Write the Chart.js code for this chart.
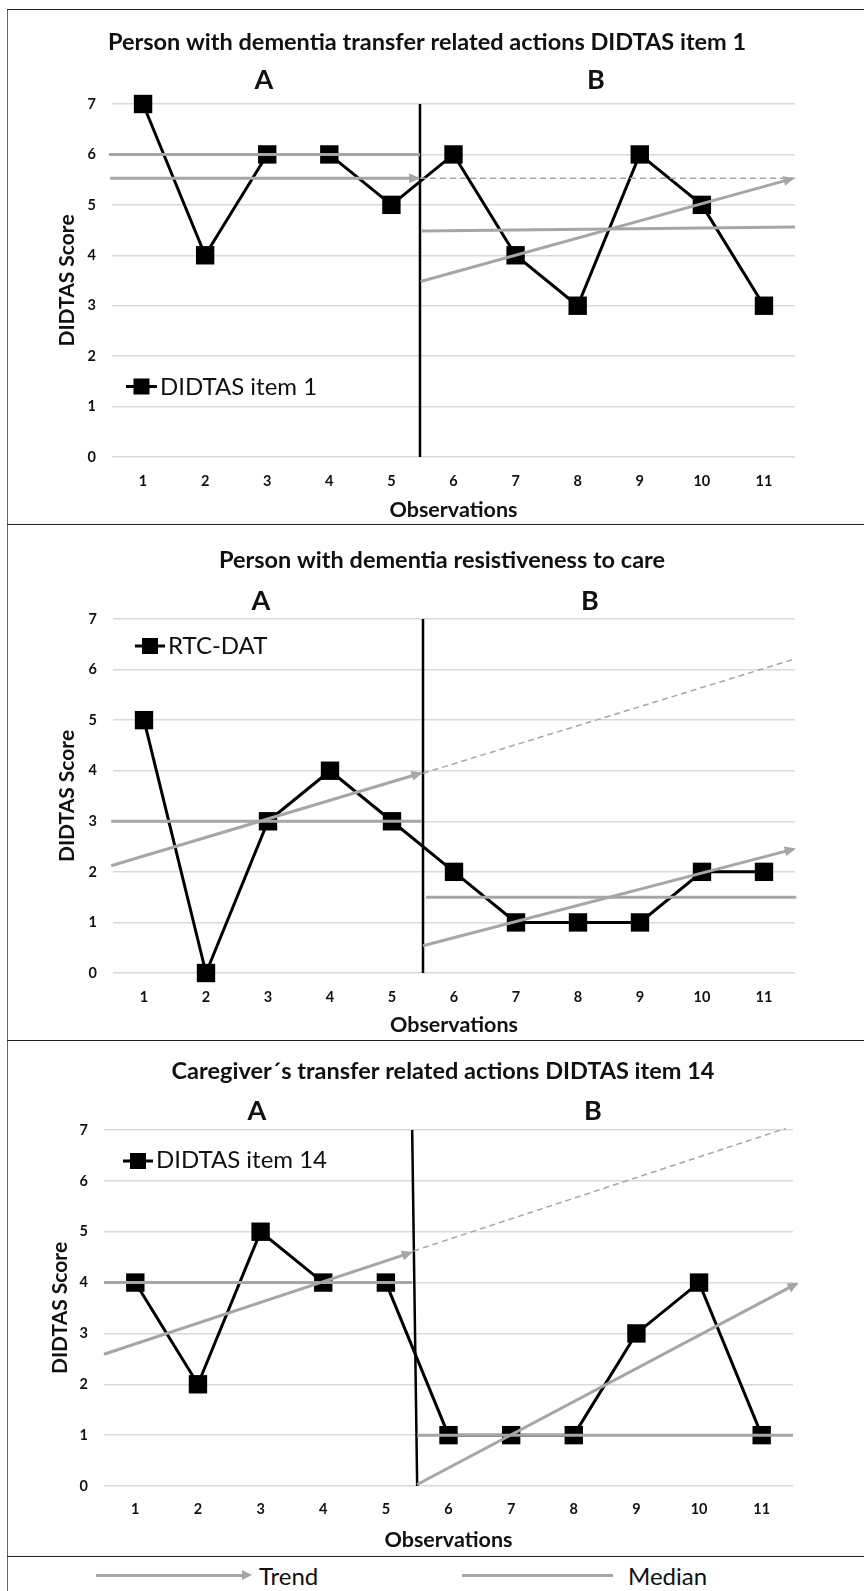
<!DOCTYPE html>
<html>
<head>
<meta charset="utf-8">
<script src="https://cdn.jsdelivr.net/npm/chart.js"></script>
<style>
html,body{margin:0;padding:0;background:#fff;width:864px;height:1591px;overflow:hidden;font-family:Lato,sans-serif;}
.wrap{position:absolute;left:0;width:864px;}
.vline{position:absolute;left:7px;top:9px;width:0;height:1582px;border-left:1px solid #666;}
.hline{position:absolute;left:7px;width:857px;height:0;border-top:1.5px solid #222;}
.abs{position:absolute;}
.legtxt{position:absolute;font-family:Lato,sans-serif;font-size:24px;line-height:1;color:#111;white-space:nowrap;}
</style>
</head>
<body>
<div class="vline"></div>
<div class="hline" style="top:9px"></div>
<div class="hline" style="top:524px"></div>
<div class="hline" style="top:1040px"></div>
<div class="hline" style="top:1556px"></div>

<div class="wrap" style="top:9px;height:515px"><canvas id="c1" width="864" height="515"></canvas></div>
<div class="wrap" style="top:524px;height:516px"><canvas id="c2" width="864" height="516"></canvas></div>
<div class="wrap" style="top:1040px;height:516px"><canvas id="c3" width="864" height="516"></canvas></div>

<!-- bottom legend -->
<div class="abs" style="left:96px;top:1573.5px;width:148px;height:3px;background:#a6a6a6"></div>
<div class="abs" style="left:242px;top:1570px;width:0;height:0;border-left:10px solid #a6a6a6;border-top:5px solid transparent;border-bottom:5px solid transparent"></div>
<div class="legtxt" style="left:259px;top:1564px">Trend</div>
<div class="abs" style="left:462px;top:1573.5px;width:151px;height:3px;background:#a6a6a6"></div>
<div class="legtxt" style="left:628px;top:1564px">Median</div>

<script>
// ---------------- DATA ----------------
const observations = [1, 2, 3, 4, 5, 6, 7, 8, 9, 10, 11];
const yTicks = [0, 1, 2, 3, 4, 5, 6, 7];

const item1Scores  = [7, 4, 6, 6, 5, 6, 4, 3, 6, 5, 3];
const rtcScores    = [5, 0, 3, 4, 3, 2, 1, 1, 1, 2, 2];
const item14Scores = [4, 2, 5, 4, 4, 1, 1, 1, 3, 4, 1];

// overlay line end points [observation, score]
const item1Phase   = [[5.46, 0], [5.46, 7]];
const item1MedianA = [[0.45, 6.0], [5.46, 6.0]];
const item1TrendA  = [[0.47, 5.53], [5.43, 5.53]];
const item1Extend  = [[5.46, 5.53], [11.5, 5.53]];
const item1MedianB = [[5.49, 4.48], [11.5, 4.56]];
const item1TrendB  = [[5.47, 3.48], [11.46, 5.52]];

const rtcPhase   = [[5.5, 0], [5.5, 7]];
const rtcMedianA = [[0.47, 3.0], [5.48, 3.0]];
const rtcTrendA  = [[0.47, 2.12], [5.46, 3.95]];
const rtcExtend  = [[5.5, 3.95], [11.5, 6.21]];
const rtcMedianB = [[5.55, 1.5], [11.52, 1.5]];
const rtcTrendB  = [[5.5, 0.54], [11.48, 2.45]];

const item14Phase   = [[5.5, 0], [5.42, 7]];
const item14MedianA = [[0.5, 4.0], [5.42, 4.0]];
const item14TrendA  = [[0.5, 2.59], [5.4, 4.59]];
const item14Extend  = [[5.44, 4.62], [11.38, 7.03]];
const item14MedianB = [[5.5, 1.0], [11.5, 1.0]];
const item14TrendB  = [[5.5, 0.03], [11.56, 3.98]];

const panelTitles = [
  'Person with dementia transfer related actions DIDTAS item 1',
  'Person with dementia resistiveness to care',
  'Caregiver\u00b4s transfer related actions DIDTAS item 14'
];
const seriesNames = ['DIDTAS item 1', 'RTC-DAT', 'DIDTAS item 14'];
const phaseLabels = ['A', 'B'];
const xAxisTitle = 'Observations';
const yAxisTitle = 'DIDTAS Score';

// ---------------- DRAWING ----------------
const GRAY = '#a6a6a6';
const FONT = 'Lato, "Open Sans", sans-serif';

function pts(arr) { return arr.map(p => ({ x: p[0], y: p[1] })); }

const decor = {
  id: 'decor',
  afterDatasetsDraw(chart) {
    const ctx = chart.ctx, xs = chart.scales.x, ys = chart.scales.y;
    chart.data.datasets.forEach(ds => {
      if (!ds.arrow) return;
      const d = ds.data, a = d[d.length - 2], b = d[d.length - 1];
      const x1 = xs.getPixelForValue(a.x), y1 = ys.getPixelForValue(a.y);
      let x2 = xs.getPixelForValue(b.x), y2 = ys.getPixelForValue(b.y);
      const ang = Math.atan2(y2 - y1, x2 - x1);
      const c = Math.cos(ang), s = Math.sin(ang);
      x2 += 2 * c; y2 += 2 * s;
      const L = 11, W = 5;
      ctx.save();
      ctx.fillStyle = ds.borderColor;
      ctx.beginPath();
      ctx.moveTo(x2, y2);
      ctx.lineTo(x2 - L * c + W * s, y2 - L * s - W * c);
      ctx.lineTo(x2 - L * c - W * s, y2 - L * s + W * c);
      ctx.closePath();
      ctx.fill();
      ctx.restore();
    });
  },
  afterDraw(chart, args, o) {
    const ctx = chart.ctx;
    ctx.save();
    ctx.fillStyle = '#111';
    ctx.textAlign = 'center';
    ctx.textBaseline = 'alphabetic';
    ctx.font = 'bold 23.5px ' + FONT;
    ctx.fillText(o.title, o.titleX, o.titleY);
    ctx.font = 'bold 27px ' + FONT;
    ctx.fillText(phaseLabels[0], o.aX, o.abY);
    ctx.fillText(phaseLabels[1], o.bX, o.abY);
    // in-plot legend
    ctx.strokeStyle = '#000';
    ctx.lineWidth = 3;
    ctx.beginPath();
    ctx.moveTo(o.legX1, o.legY);
    ctx.lineTo(o.legX2, o.legY);
    ctx.stroke();
    ctx.fillStyle = '#000';
    const mx = (o.legX1 + o.legX2) / 2;
    ctx.fillRect(mx - 8, o.legY - 8, 16, 16);
    ctx.fillStyle = '#111';
    ctx.textAlign = 'left';
    ctx.font = '24px ' + FONT;
    ctx.fillText(o.label, o.legX2 + 3, o.legBase);
    ctx.restore();
  }
};

function lineDs(label, arr, opts) {
  return Object.assign({
    label, data: pts(arr), borderColor: GRAY, borderWidth: 3, pointRadius: 0,
    tension: 0, clip: false, order: 0, fill: false
  }, opts || {});
}

function makeChart(id, scores, lines, L) {
  const datasets = [
    lineDs('Median A', lines.medianA),
    lineDs('Trend A', lines.trendA, { arrow: true }),
    lineDs('Extended trend', lines.extend, { borderWidth: 1.5, borderDash: [6, 4] }),
    lineDs('Median B', lines.medianB),
    lineDs('Trend B', lines.trendB, { arrow: true }),
    lineDs('Phase change', lines.phase, { borderColor: '#000', borderWidth: 2.5, order: 6 }),
    {
      label: L.label,
      data: observations.map((o, i) => ({ x: o, y: scores[i] })),
      borderColor: '#000', borderWidth: 3, tension: 0, clip: false, order: 5,
      pointStyle: 'rect', pointRadius: 13, pointBorderWidth: 0,
      pointBackgroundColor: '#000', pointBorderColor: '#000', fill: false
    }
  ];
  const tickFont = { family: FONT, weight: 'bold', size: 14.5 };
  return new Chart(document.getElementById(id), {
    type: 'line',
    data: { datasets },
    options: {
      responsive: false, animation: false, events: [],
      layout: { padding: L.pad },
      plugins: {
        legend: { display: false }, tooltip: { enabled: false }, title: { display: false },
        decor: L
      },
      scales: {
        x: {
          type: 'linear', min: 0.5, max: 11.5,
          afterBuildTicks: s => { s.ticks = observations.map(v => ({ value: v })); },
          afterFit: s => { s.height = L.xH; },
          grid: { display: false, drawTicks: false },
          border: { display: false },
          ticks: { padding: L.xTickPad, font: tickFont, color: '#111', maxRotation: 0, autoSkip: false },
          title: { display: true, text: xAxisTitle, font: { family: FONT, weight: 'bold', size: 21.5 }, color: '#111', padding: { top: 0, bottom: L.xTitlePb } }
        },
        y: {
          type: 'linear', min: 0, max: 7,
          afterBuildTicks: s => { s.ticks = yTicks.map(v => ({ value: v })); },
          afterFit: s => { s.width = L.yW; },
          grid: { color: '#d9d9d9', lineWidth: 1.5, drawTicks: false },
          border: { display: false },
          ticks: { padding: 16, font: tickFont, color: '#111' },
          title: { display: true, text: yAxisTitle, font: { family: FONT, weight: 'bold', size: 21 }, color: '#111', padding: { top: 15, bottom: 0 } }
        }
      }
    },
    plugins: [decor]
  });
}

function draw() {
  makeChart('c1', item1Scores,
    { phase: item1Phase, medianA: item1MedianA, trendA: item1TrendA, extend: item1Extend, medianB: item1MedianB, trendB: item1TrendB },
    { label: seriesNames[0], title: panelTitles[0], titleX: 427, titleY: 41, aX: 264, bX: 596, abY: 80,
      legX1: 126, legX2: 157, legY: 377.5, legBase: 386,
      pad: { top: 95, right: 69, bottom: 0, left: 40 }, yW: 72, xH: 67, xTickPad: 16, xTitlePb: 1 });
  makeChart('c2', rtcScores,
    { phase: rtcPhase, medianA: rtcMedianA, trendA: rtcTrendA, extend: rtcExtend, medianB: rtcMedianB, trendB: rtcTrendB },
    { label: seriesNames[1], title: panelTitles[1], titleX: 442, titleY: 44, aX: 261, bX: 590, abY: 86,
      legX1: 135, legX2: 165, legY: 122, legBase: 130,
      pad: { top: 95, right: 69, bottom: 0, left: 40 }, yW: 73, xH: 67, xTickPad: 16, xTitlePb: 2 });
  makeChart('c3', item14Scores,
    { phase: item14Phase, medianA: item14MedianA, trendA: item14TrendA, extend: item14Extend, medianB: item14MedianB, trendB: item14TrendB },
    { label: seriesNames[2], title: panelTitles[2], titleX: 443, titleY: 39, aX: 257, bX: 593, abY: 80,
      legX1: 123, legX2: 153, legY: 121, legBase: 128,
      pad: { top: 90, right: 71, bottom: 0, left: 33 }, yW: 71, xH: 70, xTickPad: 15, xTitlePb: 3 });
}

Promise.all([
  document.fonts.load('bold 20px Lato'),
  document.fonts.load('24px Lato')
]).then(draw, draw);
</script>
</body>
</html>
